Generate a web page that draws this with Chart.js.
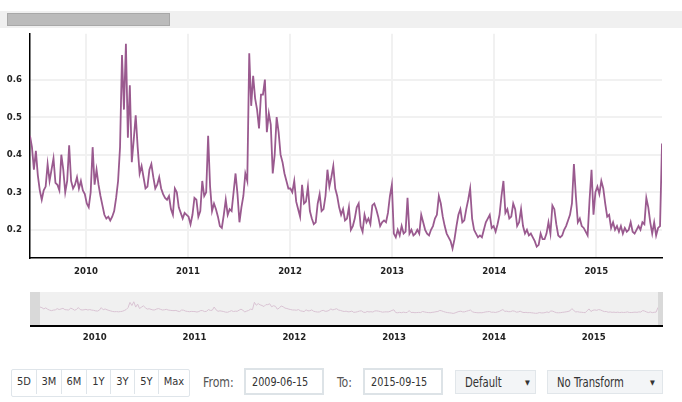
<!DOCTYPE html>
<html>
<head>
    <title>Volatility</title>
    <style>
        body { margin: 0; width: 682px; height: 402px; background: #fff; position: relative; overflow: hidden;
               font-family: "DejaVu Sans Condensed", "DejaVu Sans", sans-serif; }
        .abs { position: absolute; white-space: nowrap; }
        .strip { left: 0; top: 11px; width: 682px; height: 17px; background: #f0f0f0; }
        .thumb { left: 7px; top: 13px; width: 161px; height: 11px; background: #bbbbbb; border: 1px solid #a8a8a8; }
        .nav-bg { left: 30px; top: 292px; width: 633px; height: 33px; background: #f0f0f0; }
        .handle { top: 292px; height: 33px; background: #d9d9d9; }
        .nav-axis { left: 30px; top: 325px; width: 633px; height: 1.5px; background: #000; }
        .btns { left: 11px; top: 369px; height: 26px; display: flex; border: 1px solid #dfe5ea; border-radius: 2px; }
        .btns span { display: inline-block; height: 24px; line-height: 24px; text-align: center; font-size: 11px;
                     color: #333; border-left: 1px solid #dfe5ea; margin: 0; }
        .btns span:first-child { border-left: none; }
        .narrow { display: inline-block; transform-origin: left center; }
        .label { font-size: 14px; color: #555; top: 374px; }
        .inp { top: 368px; height: 23px; border: 2px solid #dde3e7; line-height: 23px; font-size: 12.5px;
               color: #333; padding-left: 6px; overflow: hidden; }
        .sel { top: 370px; height: 22px; background: #f3f5f7; border: 1px solid #e1e6ea; line-height: 22px;
               font-size: 14px; color: #333; }
        .sel b { position: absolute; font-size: 7px; top: 1px; color: #333; font-weight: normal; }
    </style>
</head>
<body>
    <div class="abs strip"></div>
    <div class="abs thumb"></div>

    <div class="abs" style="left:0; top:20px; width:682px; height:270px;">
        <canvas id="mainChart" width="682" height="270"></canvas>
    </div>

    <div class="abs nav-bg"></div>
    <div class="abs handle" style="left:30px; width:10px;"></div>
    <div class="abs handle" style="left:658px; width:5px;"></div>
    <div class="abs nav-axis"></div>
    <div class="abs" style="left:0; top:292px; width:682px; height:52px;">
        <canvas id="navChart" width="682" height="52"></canvas>
    </div>

    <div class="abs btns">
        <span style="width:24px">5D</span><span style="width:24px">3M</span><span style="width:24px">6M</span>
        <span style="width:23px">1Y</span><span style="width:23px">3Y</span><span style="width:23px">5Y</span>
        <span style="width:30px">Max</span>
    </div>
    <div class="abs label" style="left:203px;"><span class="narrow" style="transform:scaleX(0.87)">From:</span></div>
    <div class="abs inp" style="left:244px; width:70px;"><span class="narrow" style="transform:scaleX(0.86)">2009-06-15</span></div>
    <div class="abs label" style="left:337px;"><span class="narrow" style="transform:scaleX(0.87)">To:</span></div>
    <div class="abs inp" style="left:363px; width:70px;"><span class="narrow" style="transform:scaleX(0.86)">2015-09-15</span></div>
    <div class="abs sel" style="left:455px; width:79px;"><span class="narrow" style="margin-left:9px; transform:scaleX(0.8)">Default</span><b style="left:69px">&#9660;</b></div>
    <div class="abs sel" style="left:547px; width:114px;"><span class="narrow" style="margin-left:9px; transform:scaleX(0.8)">No Transform</span><b style="left:102px">&#9660;</b></div>

    <script src="https://cdn.jsdelivr.net/npm/chart.js"></script>
    <script>
        // Weekly samples, starting 2009-06-15
        const startDate = '2009-06-15';
        const stepDays = 7;
        const values = [
            0.45, 0.42, 0.36, 0.41, 0.345, 0.305, 0.28, 0.305, 0.315, 0.375,
            0.33, 0.36, 0.39, 0.325, 0.32, 0.305, 0.40, 0.36, 0.30, 0.33,
            0.425, 0.33, 0.31, 0.32, 0.34, 0.31, 0.33, 0.305, 0.295, 0.27,
            0.26, 0.30, 0.42, 0.32, 0.36, 0.32, 0.29, 0.265, 0.24, 0.23,
            0.235, 0.225, 0.235, 0.25, 0.285, 0.33, 0.42, 0.665, 0.52, 0.695,
            0.445, 0.585, 0.38, 0.44, 0.505, 0.42, 0.35, 0.37, 0.34, 0.31,
            0.315, 0.36, 0.375, 0.34, 0.31, 0.32, 0.34, 0.31, 0.295, 0.285,
            0.28, 0.29, 0.255, 0.24, 0.31, 0.30, 0.26, 0.245, 0.23, 0.245,
            0.24, 0.235, 0.215, 0.24, 0.285, 0.28, 0.235, 0.25, 0.33, 0.29,
            0.30, 0.45, 0.315, 0.25, 0.27, 0.255, 0.235, 0.21, 0.205, 0.24,
            0.28, 0.24, 0.255, 0.25, 0.30, 0.35, 0.295, 0.22, 0.26, 0.29,
            0.35, 0.33, 0.67, 0.53, 0.61, 0.55, 0.52, 0.47, 0.56, 0.56,
            0.60, 0.46, 0.51, 0.48, 0.35, 0.40, 0.50, 0.46, 0.40, 0.38,
            0.35, 0.33, 0.31, 0.31, 0.30, 0.33, 0.275, 0.255, 0.235, 0.32,
            0.27, 0.275, 0.315, 0.25, 0.23, 0.215, 0.22, 0.27, 0.295, 0.25,
            0.255, 0.29, 0.36, 0.315, 0.34, 0.37, 0.31, 0.29, 0.26, 0.24,
            0.255, 0.225, 0.23, 0.26, 0.20, 0.21, 0.23, 0.26, 0.27, 0.21,
            0.195, 0.24, 0.22, 0.23, 0.215, 0.265, 0.27, 0.255, 0.235, 0.21,
            0.22, 0.225, 0.22, 0.245, 0.29, 0.32, 0.19, 0.18, 0.20, 0.185,
            0.21, 0.19, 0.195, 0.285, 0.19, 0.20, 0.185, 0.19, 0.20, 0.19,
            0.24, 0.22, 0.20, 0.19, 0.185, 0.20, 0.21, 0.23, 0.24, 0.29,
            0.27, 0.235, 0.21, 0.19, 0.18, 0.17, 0.15, 0.175, 0.21, 0.24,
            0.255, 0.22, 0.225, 0.255, 0.28, 0.31, 0.23, 0.20, 0.19, 0.18,
            0.185, 0.18, 0.20, 0.22, 0.23, 0.24, 0.205, 0.21, 0.195, 0.215,
            0.24, 0.29, 0.33, 0.245, 0.255, 0.23, 0.235, 0.27, 0.255, 0.21,
            0.22, 0.255, 0.21, 0.19, 0.20, 0.185, 0.19, 0.18, 0.17, 0.155,
            0.16, 0.19, 0.175, 0.175, 0.19, 0.22, 0.19, 0.265, 0.255, 0.215,
            0.185, 0.18, 0.185, 0.20, 0.21, 0.225, 0.24, 0.27, 0.375, 0.29,
            0.22, 0.23, 0.21, 0.205, 0.195, 0.185, 0.28, 0.36, 0.24, 0.30,
            0.315, 0.295, 0.33, 0.31, 0.27, 0.235, 0.24, 0.205, 0.22, 0.20,
            0.21, 0.195, 0.21, 0.19, 0.205, 0.195, 0.20, 0.22, 0.195, 0.19,
            0.20, 0.21, 0.20, 0.22, 0.215, 0.285, 0.26, 0.22, 0.19, 0.22,
            0.185, 0.205, 0.21, 0.43
        ];
        const yearTicks = [2010, 2011, 2012, 2013, 2014, 2015];
        const valueTicks = [0.2, 0.3, 0.4, 0.5, 0.6];

        const lineColor = '#9a5a8f';
        const tickFont = { family: '"DejaVu Sans Condensed", sans-serif', size: 9.5, weight: 'bold' };

        // no date adapter offline, so dates become decimal years on a linear axis
        function toDecimalYear(ms) {
            const y = new Date(ms).getUTCFullYear();
            const a = Date.UTC(y, 0, 1), b = Date.UTC(y + 1, 0, 1);
            return y + (ms - a) / (b - a);
        }

        const t0 = Date.parse(startDate + 'T00:00:00Z');
        const points = values.map((v, i) => ({ x: toDecimalYear(t0 + i * stepDays * 86400000), y: v }));
        const xMin = points[0].x;
        const xMax = points[points.length - 1].x;

        new Chart(document.getElementById('mainChart'), {
            type: 'line',
            data: {
                datasets: [{
                    data: points,
                    borderColor: lineColor,
                    borderWidth: 1.8,
                    pointRadius: 0,
                    tension: 0,
                    fill: false
                }]
            },
            options: {
                responsive: false,
                animation: false,
                layout: { padding: { top: 8, right: 20, left: 0, bottom: 0 } },
                plugins: { legend: { display: false }, tooltip: { enabled: false } },
                scales: {
                    x: {
                        type: 'linear',
                        min: xMin,
                        max: xMax,
                        afterBuildTicks: axis => { axis.ticks = yearTicks.map(v => ({ value: v })); },
                        afterFit: axis => { axis.height = 32; },
                        ticks: { callback: v => String(v), font: tickFont, color: '#222', padding: 8, maxRotation: 0 },
                        grid: { color: '#f1f1f1', lineWidth: 2, drawTicks: false },
                        border: { color: '#000', width: 1.5 }
                    },
                    y: {
                        min: 0.125,
                        max: 0.722,
                        afterBuildTicks: axis => { axis.ticks = valueTicks.map(v => ({ value: v })); },
                        afterFit: axis => { axis.width = 30; },
                        ticks: { callback: v => v.toFixed(1), font: tickFont, color: '#222', padding: 8 },
                        grid: { color: '#f1f1f1', lineWidth: 2, drawTicks: false },
                        border: { color: '#000', width: 1.5 }
                    }
                }
            }
        });

        new Chart(document.getElementById('navChart'), {
            type: 'line',
            data: {
                datasets: [{
                    data: points,
                    borderColor: '#d9c3d3',
                    borderWidth: 1,
                    pointRadius: 0,
                    tension: 0,
                    fill: false
                }]
            },
            options: {
                responsive: false,
                animation: false,
                layout: { padding: { top: 0, right: 24, left: 40, bottom: 0 } },
                plugins: { legend: { display: false }, tooltip: { enabled: false } },
                scales: {
                    x: {
                        type: 'linear',
                        min: xMin,
                        max: xMax,
                        afterBuildTicks: axis => { axis.ticks = yearTicks.map(v => ({ value: v })); },
                        afterFit: axis => { axis.height = 19; },
                        ticks: { callback: v => String(v), font: tickFont, color: '#222', padding: 7, maxRotation: 0 },
                        grid: { display: false, drawTicks: false },
                        border: { display: false }
                    },
                    y: { display: false, min: -0.39, max: 1.15 }
                }
            }
        });
    </script>
</body>
</html>
